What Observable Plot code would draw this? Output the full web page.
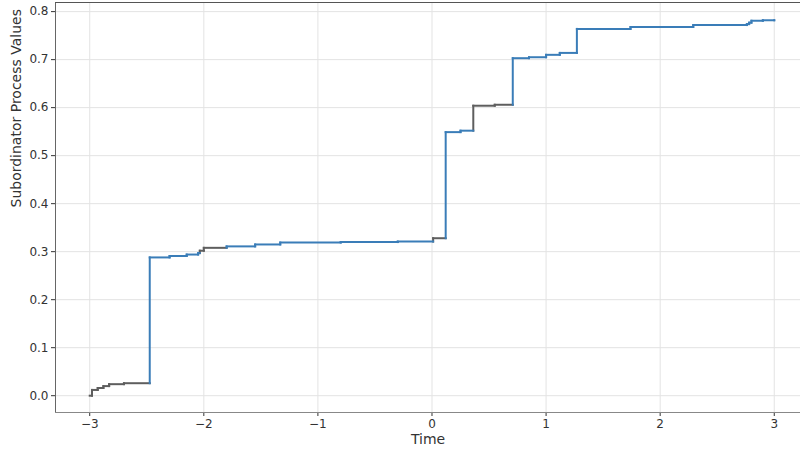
<!DOCTYPE html>
<html>
<head>
<meta charset="utf-8">
<script src="https://cdn.jsdelivr.net/npm/d3@7"></script>
<script src="https://cdn.jsdelivr.net/npm/@observablehq/plot@0.6"></script>
<style>
  html, body { margin: 0; padding: 0; background: #fff; overflow: hidden; }
  #chart svg { display: block; }
</style>
</head>
<body>
<div id="chart"></div>
<script>
// Subordinator path: jump times and the value held from each time onward
const times = [-3.00, -2.98, -2.93, -2.88, -2.83, -2.70, -2.474, -2.30, -2.15, -2.05, -2.035, -2.00,
  -1.80, -1.55, -1.33, -0.80, -0.30, 0.01, 0.12, 0.25, 0.362, 0.55, 0.708, 0.85, 1.00, 1.12, 1.27,
  1.74, 2.29, 2.76, 2.78, 2.80, 2.90, 3.00];
const values = [0.000, 0.012, 0.016, 0.020, 0.024, 0.026, 0.288, 0.291, 0.294, 0.297, 0.302, 0.308,
  0.311, 0.315, 0.319, 0.320, 0.321, 0.328, 0.549, 0.552, 0.604, 0.606, 0.703, 0.705, 0.710, 0.714, 0.764,
  0.768, 0.772, 0.774, 0.777, 0.781, 0.782, 0.782];
// which trace each step belongs to
const tones = ["g", "g", "g", "g", "g", "g", "b", "b", "b", "b", "g", "g",
  "b", "b", "b", "b", "b", "g", "b", "b", "g", "g", "b", "b", "b", "b", "b",
  "b", "b", "b", "b", "b", "b", "b"];

const xTicks = [-3, -2, -1, 0, 1, 2, 3];
const yTicks = [0, 0.1, 0.2, 0.3, 0.4, 0.5, 0.6, 0.7, 0.8];
const xDomain = [-3.3, 3.23];
const yDomain = [-0.035, 0.819];

// horizontal and vertical pieces of the step path
const pieces = [];
for (let i = 0; i < times.length - 1; i++) {
  pieces.push({x1: times[i], y1: values[i], x2: times[i + 1], y2: values[i], tone: tones[i]});
  pieces.push({x1: times[i + 1], y1: values[i], x2: times[i + 1], y2: values[i + 1], tone: tones[i + 1]});
}
const toneColor = {g: "#5e5e5e", b: "#3a7db8"};

const chart = Plot.plot({
  width: 800,
  height: 452,
  marginLeft: 55,
  marginRight: 0,
  marginTop: 2,
  marginBottom: 40,
  style: {fontFamily: "DejaVu Sans, sans-serif", fontSize: "12px", color: "#333", background: "#fff"},
  x: {domain: xDomain, ticks: xTicks, tickSize: 4, tickPadding: 3, label: null, tickFormat: d => d < 0 ? "\u2212" + Math.abs(d) : String(d)},
  y: {domain: yDomain, ticks: yTicks, tickSize: 4, tickPadding: 3, label: null, tickFormat: d3.format(".1f")},
  marks: [
    Plot.ruleX(xTicks, {stroke: "#e3e3e3", strokeWidth: 1}),
    Plot.ruleY(yTicks, {stroke: "#e3e3e3", strokeWidth: 1}),
    Plot.ruleX([xDomain[0]], {stroke: "#666", strokeWidth: 1}),
    Plot.ruleY([yDomain[0]], {stroke: "#888", strokeWidth: 1}),
    Plot.ruleY([yDomain[1]], {stroke: "#555", strokeWidth: 1.2}),
    Plot.link(pieces.filter(d => d.tone === "g"), {x1: "x1", y1: "y1", x2: "x2", y2: "y2", stroke: toneColor.g, strokeWidth: 2, strokeLinecap: "square"}),
    Plot.link(pieces.filter(d => d.tone === "b"), {x1: "x1", y1: "y1", x2: "x2", y2: "y2", stroke: toneColor.b, strokeWidth: 2, strokeLinecap: "square"}),
    Plot.text(["Subordinator Process Values"], {frameAnchor: "left", dx: -39, rotate: -90, fontSize: 14, fill: "#333"}),
    Plot.text(["Time"], {frameAnchor: "bottom", dy: 31, fontSize: 14, fill: "#333"})
  ]
});
document.getElementById("chart").appendChild(chart);
</script>
</body>
</html>
